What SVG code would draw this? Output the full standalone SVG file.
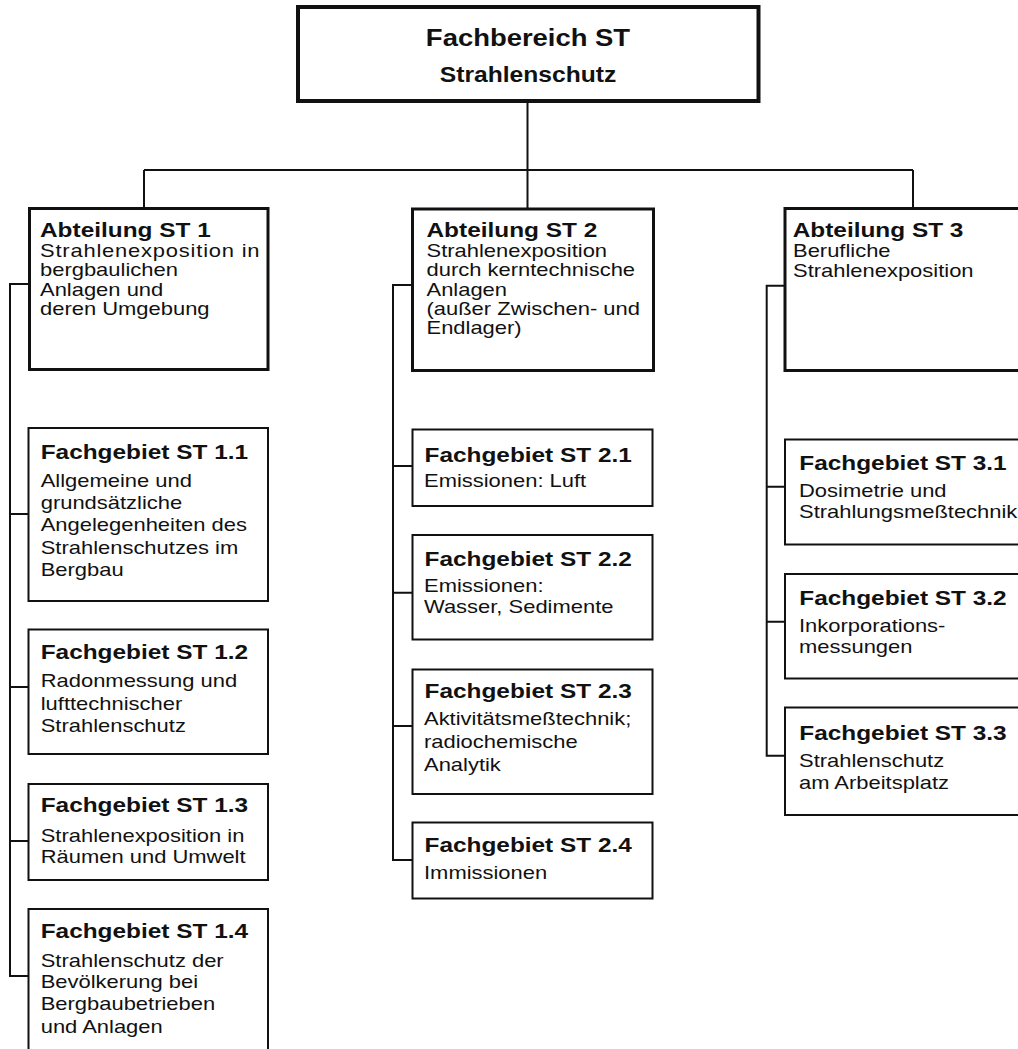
<svg xmlns="http://www.w3.org/2000/svg" width="1018" height="1049" viewBox="0 0 1018 1049">
  <style>
    text { font-family: "Liberation Sans", Arial, Helvetica, sans-serif; fill: #111; }
    .t1 { font-size: 24.5px; font-weight: bold; text-anchor: middle; }
    .t2 { font-size: 22px; font-weight: bold; text-anchor: middle; }
    .h { font-size: 20px; font-weight: bold; }
    .b { font-size: 18px; }
    .top { fill: #fff; stroke: #111; stroke-width: 4; }
    .dept { fill: #fff; stroke: #111; stroke-width: 3; }
    .area { fill: #fff; stroke: #111; stroke-width: 2; }
    .wire { fill: none; stroke: #111; stroke-width: 2; }
  </style>
  <rect width="1018" height="1049" fill="#fff"/>

  <!-- tree lines -->
  <g id="connectors" class="wire">
    <path d="M527.5 101 V170 M144 170 H913 M144 170 V208 M527.5 170 V209 M913 170 V208"/>
    <path d="M29 284 H10 V976 H28 M10 514 H28 M10 687 H28 M10 841 H28"/>
    <path d="M412 285 H393 V860 H412 M393 466 H412 M393 592.7 H412 M393 726 H412"/>
    <path d="M785 285.7 H766.7 V755.7 H785 M766.7 486.7 H785 M766.7 621.7 H785"/>
  </g>

  <g id="fachbereich">
    <rect class="top" x="298" y="7" width="460.5" height="94"/>
    <text class="t1" transform="translate(528,46) scale(1.12,1)">Fachbereich ST</text>
    <text class="t2" transform="translate(528,82) scale(1.12,1)">Strahlenschutz</text>
  </g>

  <!-- Abteilung ST 1 -->
  <g id="st1">
    <rect class="dept" x="29.5" y="208.5" width="238.5" height="161"/>
    <text class="h" transform="translate(40,237) scale(1.22,1)">Abteilung ST 1</text>
    <text class="b" transform="translate(40,0) scale(1.22,1)"><tspan x="0" y="257" textLength="180" lengthAdjust="spacing">Strahlenexposition in</tspan><tspan x="0" y="276.5">bergbaulichen</tspan><tspan x="0" y="296">Anlagen und</tspan><tspan x="0" y="315">deren Umgebung</tspan></text>
  </g>
  <g id="st1-1">
    <rect class="area" x="28.5" y="428" width="239.5" height="173"/>
    <text class="h" transform="translate(40.7,459) scale(1.22,1)">Fachgebiet ST 1.1</text>
    <text class="b" transform="translate(40.7,0) scale(1.22,1)"><tspan x="0" y="486.7">Allgemeine und</tspan><tspan x="0" y="509">grundsätzliche</tspan><tspan x="0" y="531.5">Angelegenheiten des</tspan><tspan x="0" y="554">Strahlenschutzes im</tspan><tspan x="0" y="576.5">Bergbau</tspan></text>
  </g>
  <g id="st1-2">
    <rect class="area" x="28.5" y="629.5" width="239.5" height="124.5"/>
    <text class="h" transform="translate(40.7,659) scale(1.22,1)">Fachgebiet ST 1.2</text>
    <text class="b" transform="translate(40.7,0) scale(1.22,1)"><tspan x="0" y="687.5">Radonmessung und</tspan><tspan x="0" y="710">lufttechnischer</tspan><tspan x="0" y="732.3">Strahlenschutz</tspan></text>
  </g>
  <g id="st1-3">
    <rect class="area" x="28.5" y="784" width="239.5" height="96"/>
    <text class="h" transform="translate(40.7,811.7) scale(1.22,1)">Fachgebiet ST 1.3</text>
    <text class="b" transform="translate(40.7,0) scale(1.22,1)"><tspan x="0" y="841.7">Strahlenexposition in</tspan><tspan x="0" y="863.3">Räumen und Umwelt</tspan></text>
  </g>
  <g id="st1-4">
    <rect class="area" x="28.5" y="909" width="239.5" height="170"/>
    <text class="h" transform="translate(40.7,937.7) scale(1.22,1)">Fachgebiet ST 1.4</text>
    <text class="b" transform="translate(40.7,0) scale(1.22,1)"><tspan x="0" y="966.7">Strahlenschutz der</tspan><tspan x="0" y="988.3">Bevölkerung bei</tspan><tspan x="0" y="1010">Bergbaubetrieben</tspan><tspan x="0" y="1032.7">und Anlagen</tspan></text>
  </g>

  <!-- Abteilung ST 2 -->
  <g id="st2">
    <rect class="dept" x="412.5" y="209" width="241" height="161.5"/>
    <text class="h" transform="translate(426.5,236.7) scale(1.22,1)">Abteilung ST 2</text>
    <text class="b" transform="translate(426.5,0) scale(1.22,1)"><tspan x="0" y="256.7">Strahlenexposition</tspan><tspan x="0" y="276">durch kerntechnische</tspan><tspan x="0" y="295.7">Anlagen</tspan><tspan x="0" y="315">(außer Zwischen- und</tspan><tspan x="0" y="334">Endlager)</tspan></text>
  </g>
  <g id="st2-1">
    <rect class="area" x="412.5" y="429.5" width="240" height="76.5"/>
    <text class="h" transform="translate(424.5,461.7) scale(1.22,1)">Fachgebiet ST 2.1</text>
    <text class="b" transform="translate(424,487.3) scale(1.22,1)">Emissionen: Luft</text>
  </g>
  <g id="st2-2">
    <rect class="area" x="412.5" y="535" width="240" height="104.5"/>
    <text class="h" transform="translate(424.5,565.7) scale(1.22,1)">Fachgebiet ST 2.2</text>
    <text class="b" transform="translate(424,0) scale(1.22,1)"><tspan x="0" y="591.7">Emissionen:</tspan><tspan x="0" y="613.3">Wasser, Sedimente</tspan></text>
  </g>
  <g id="st2-3">
    <rect class="area" x="412.5" y="669.5" width="240" height="124.5"/>
    <text class="h" transform="translate(424.5,698.3) scale(1.22,1)">Fachgebiet ST 2.3</text>
    <text class="b" transform="translate(424,0) scale(1.22,1)"><tspan x="0" y="725">Aktivitätsmeßtechnik;</tspan><tspan x="0" y="748.3">radiochemische</tspan><tspan x="0" y="771">Analytik</tspan></text>
  </g>
  <g id="st2-4">
    <rect class="area" x="412.5" y="822.5" width="240" height="76"/>
    <text class="h" transform="translate(424.5,851.7) scale(1.22,1)">Fachgebiet ST 2.4</text>
    <text class="b" transform="translate(424,879.3) scale(1.22,1)">Immissionen</text>
  </g>

  <!-- Abteilung ST 3 -->
  <g id="st3">
    <rect class="dept" x="785" y="208.5" width="260" height="162"/>
    <text class="h" transform="translate(792.7,237.3) scale(1.22,1)">Abteilung ST 3</text>
    <text class="b" transform="translate(793,0) scale(1.22,1)"><tspan x="0" y="256.7">Berufliche</tspan><tspan x="0" y="276.7">Strahlenexposition</tspan></text>
  </g>
  <g id="st3-1">
    <rect class="area" x="785" y="439.5" width="260" height="105"/>
    <text class="h" transform="translate(799.3,470) scale(1.22,1)">Fachgebiet ST 3.1</text>
    <text class="b" transform="translate(799,0) scale(1.22,1)"><tspan x="0" y="497.3">Dosimetrie und</tspan><tspan x="0" y="518.3">Strahlungsmeßtechnik</tspan></text>
  </g>
  <g id="st3-2">
    <rect class="area" x="785" y="574" width="260" height="104.5"/>
    <text class="h" transform="translate(799.3,605) scale(1.22,1)">Fachgebiet ST 3.2</text>
    <text class="b" transform="translate(799,0) scale(1.22,1)"><tspan x="0" y="631.7">Inkorporations-</tspan><tspan x="0" y="653.3">messungen</tspan></text>
  </g>
  <g id="st3-3">
    <rect class="area" x="785" y="707.5" width="260" height="107.5"/>
    <text class="h" transform="translate(799.3,740) scale(1.22,1)">Fachgebiet ST 3.3</text>
    <text class="b" transform="translate(799,0) scale(1.22,1)"><tspan x="0" y="766.7">Strahlenschutz</tspan><tspan x="0" y="789.3">am Arbeitsplatz</tspan></text>
  </g>
</svg>
